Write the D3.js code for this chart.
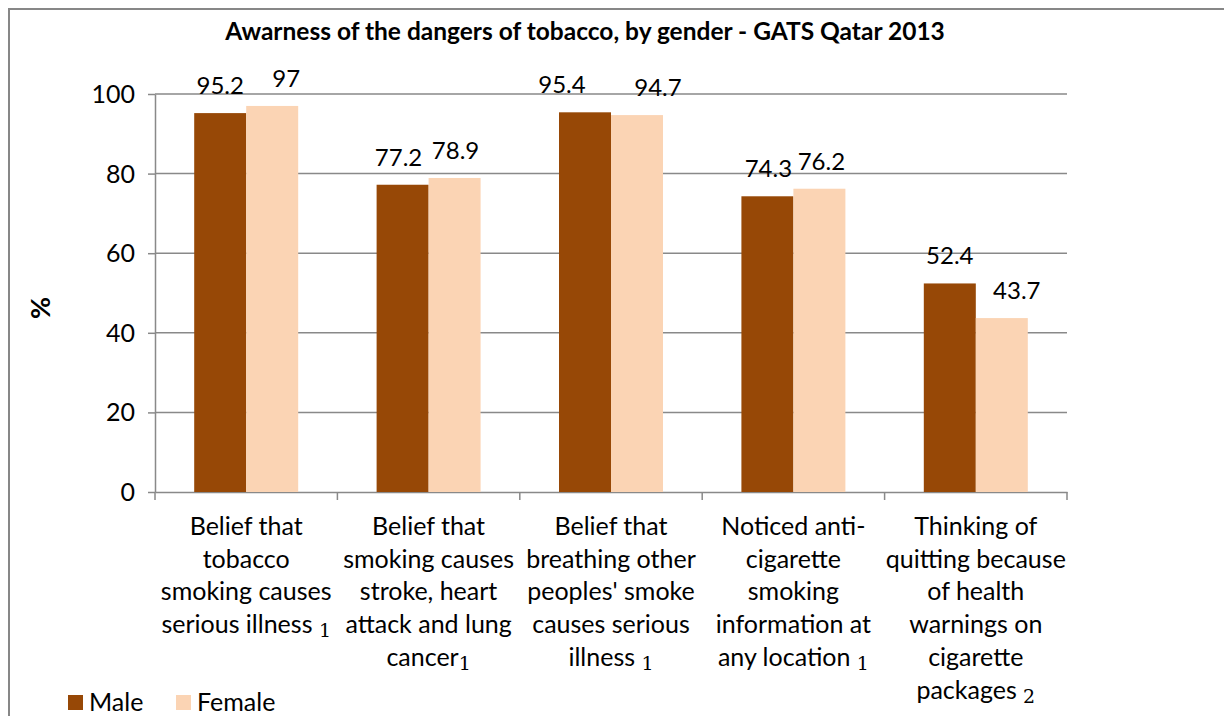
<!DOCTYPE html>
<html>
<head>
<meta charset="utf-8">
<script src="https://cdn.jsdelivr.net/npm/d3@7"></script>
<style>
  html, body { margin: 0; padding: 0; background: #fff; }
  svg { display: block; }
  text { font-family: Lato, "Open Sans", sans-serif; fill: #000; }
</style>
</head>
<body>
<svg id="chart" width="1224" height="716"></svg>
<script>
// Awareness of tobacco dangers, GATS Qatar 2013
const categories = ["illness", "stroke", "secondhand", "noticed", "quitting"];
const categoryLines = [
  ["Belief that", "tobacco", "smoking causes", "serious illness "],
  ["Belief that", "smoking causes", "stroke, heart", "attack and lung", "cancer"],
  ["Belief that", "breathing other", "peoples' smoke", "causes serious", "illness "],
  ["Noticed anti-", "cigarette", "smoking", "information at", "any location "],
  ["Thinking of", "quitting because", "of health", "warnings on", "cigarette", "packages "]
];
const footnotes = ["1", "1", "1", "1", "2"];
const series = ["Male", "Female"];
const male = [95.2, 77.2, 95.4, 74.3, 52.4];
const female = [97, 78.9, 94.7, 76.2, 43.7];
const yTicks = [0, 20, 40, 60, 80, 100];
const colors = ["#974806", "#FBD4B4"];

// horizontal nudges for value labels that were dragged apart (px)
const labelNudge = [[0, 14], [-4, 1], [-23, 21], [1, 2], [0, 15]];

const svg = d3.select("#chart");
const plot = { left: 155, right: 1067, top: 94, bottom: 492 };
const gridColor = "#898989";

// outer frame
svg.append("rect")
  .attr("x", 9).attr("y", 9).attr("width", 1230).attr("height", 730)
  .attr("fill", "none").attr("stroke", "#878787").attr("stroke-width", 2);

const x0 = d3.scaleBand().domain(categories).range([plot.left, plot.right]).paddingInner(0).paddingOuter(0);
const x1 = d3.scaleBand().domain(series).range([0, x0.bandwidth()]).paddingInner(0).paddingOuter(0.754);
const y = d3.scaleLinear().domain([0, 100]).range([plot.bottom, plot.top]);

// horizontal gridlines
svg.append("g").selectAll("line").data(yTicks.filter(d => d > 0)).join("line")
  .attr("x1", plot.left).attr("x2", plot.right)
  .attr("y1", d => y(d)).attr("y2", d => y(d))
  .attr("stroke", gridColor).attr("stroke-width", 1.5);

// y axis
const yAxis = svg.append("g").attr("transform", `translate(${plot.left},0)`)
  .call(d3.axisLeft(y).tickValues(yTicks).tickSize(7).tickPadding(13).tickSizeOuter(0));
yAxis.select(".domain").attr("stroke", gridColor).attr("stroke-width", 1.5);
yAxis.selectAll(".tick line").attr("stroke", gridColor).attr("stroke-width", 1.5);
yAxis.selectAll(".tick text").attr("font-size", 25).attr("font-family", "Lato").attr("fill", "#000").attr("dy", "0.34em");

// x axis baseline and category ticks
const xAxis = svg.append("g").attr("transform", `translate(0,${plot.bottom})`)
  .call(d3.axisBottom(x0).tickSize(0).tickFormat(""));
xAxis.select(".domain").attr("stroke", gridColor).attr("stroke-width", 1.5);
const bounds = categories.map(c => x0(c)).concat([plot.right]);
svg.append("g").selectAll("line").data(bounds).join("line")
  .attr("x1", d => d).attr("x2", d => d)
  .attr("y1", plot.bottom).attr("y2", plot.bottom + 8)
  .attr("stroke", gridColor).attr("stroke-width", 1.5);

// bars
const rows = categories.map((c, i) => ({ cat: c, i, values: [male[i], female[i]] }));
const groups = svg.append("g").selectAll("g").data(rows).join("g")
  .attr("transform", d => `translate(${x0(d.cat)},0)`);
const cells = d => d.values.map((v, j) => ({ key: series[j], v, j, i: d.i }));
groups.selectAll("rect").data(cells).join("rect")
  .attr("x", d => x1(d.key)).attr("width", x1.bandwidth())
  .attr("y", d => y(d.v)).attr("height", d => y(0) - y(d.v))
  .attr("fill", d => colors[d.j]);
groups.selectAll("text.val").data(cells).join("text")
  .attr("class", "val")
  .attr("x", d => x1(d.key) + x1.bandwidth() / 2 + labelNudge[d.i][d.j])
  .attr("y", d => y(d.v) - 19)
  .attr("text-anchor", "middle").attr("font-size", 24)
  .text(d => String(d.v));

// category labels
const labels = svg.append("g").selectAll("text").data(categories).join("text")
  .attr("x", d => x0(d) + x0.bandwidth() / 2)
  .attr("y", 535)
  .attr("text-anchor", "middle").attr("font-size", 25);
labels.each(function (c, i) {
  const t = d3.select(this);
  const lines = categoryLines[i];
  lines.forEach((ln, k) => {
    t.append("tspan").attr("x", x0(c) + x0.bandwidth() / 2).attr("dy", k === 0 ? 0 : 32.7).text(ln);
    if (k === lines.length - 1) {
      t.append("tspan").attr("font-family", "'DejaVu Serif', serif").attr("font-size", 19)
        .attr("dy", 4).text(footnotes[i]);
    }
  });
});

// title
svg.append("text").attr("x", 585).attr("y", 40).attr("text-anchor", "middle")
  .attr("font-size", 24.5).attr("font-weight", "bold")
  .text("Awarness of the dangers of tobacco, by gender - GATS Qatar 2013");

// y axis title
svg.append("text").attr("transform", "translate(50,308) rotate(-90)")
  .attr("text-anchor", "middle").attr("font-size", 27).attr("font-weight", "bold").text("%");

// legend
const legend = svg.append("g").selectAll("g").data(series).join("g")
  .attr("transform", (d, i) => `translate(${i === 0 ? 68 : 176},695)`);
legend.append("rect").attr("width", 15).attr("height", 15).attr("fill", (d, i) => colors[i]);
legend.append("text").attr("x", 21).attr("y", 16).attr("font-size", 25).text(d => d);
</script>
</body>
</html>
